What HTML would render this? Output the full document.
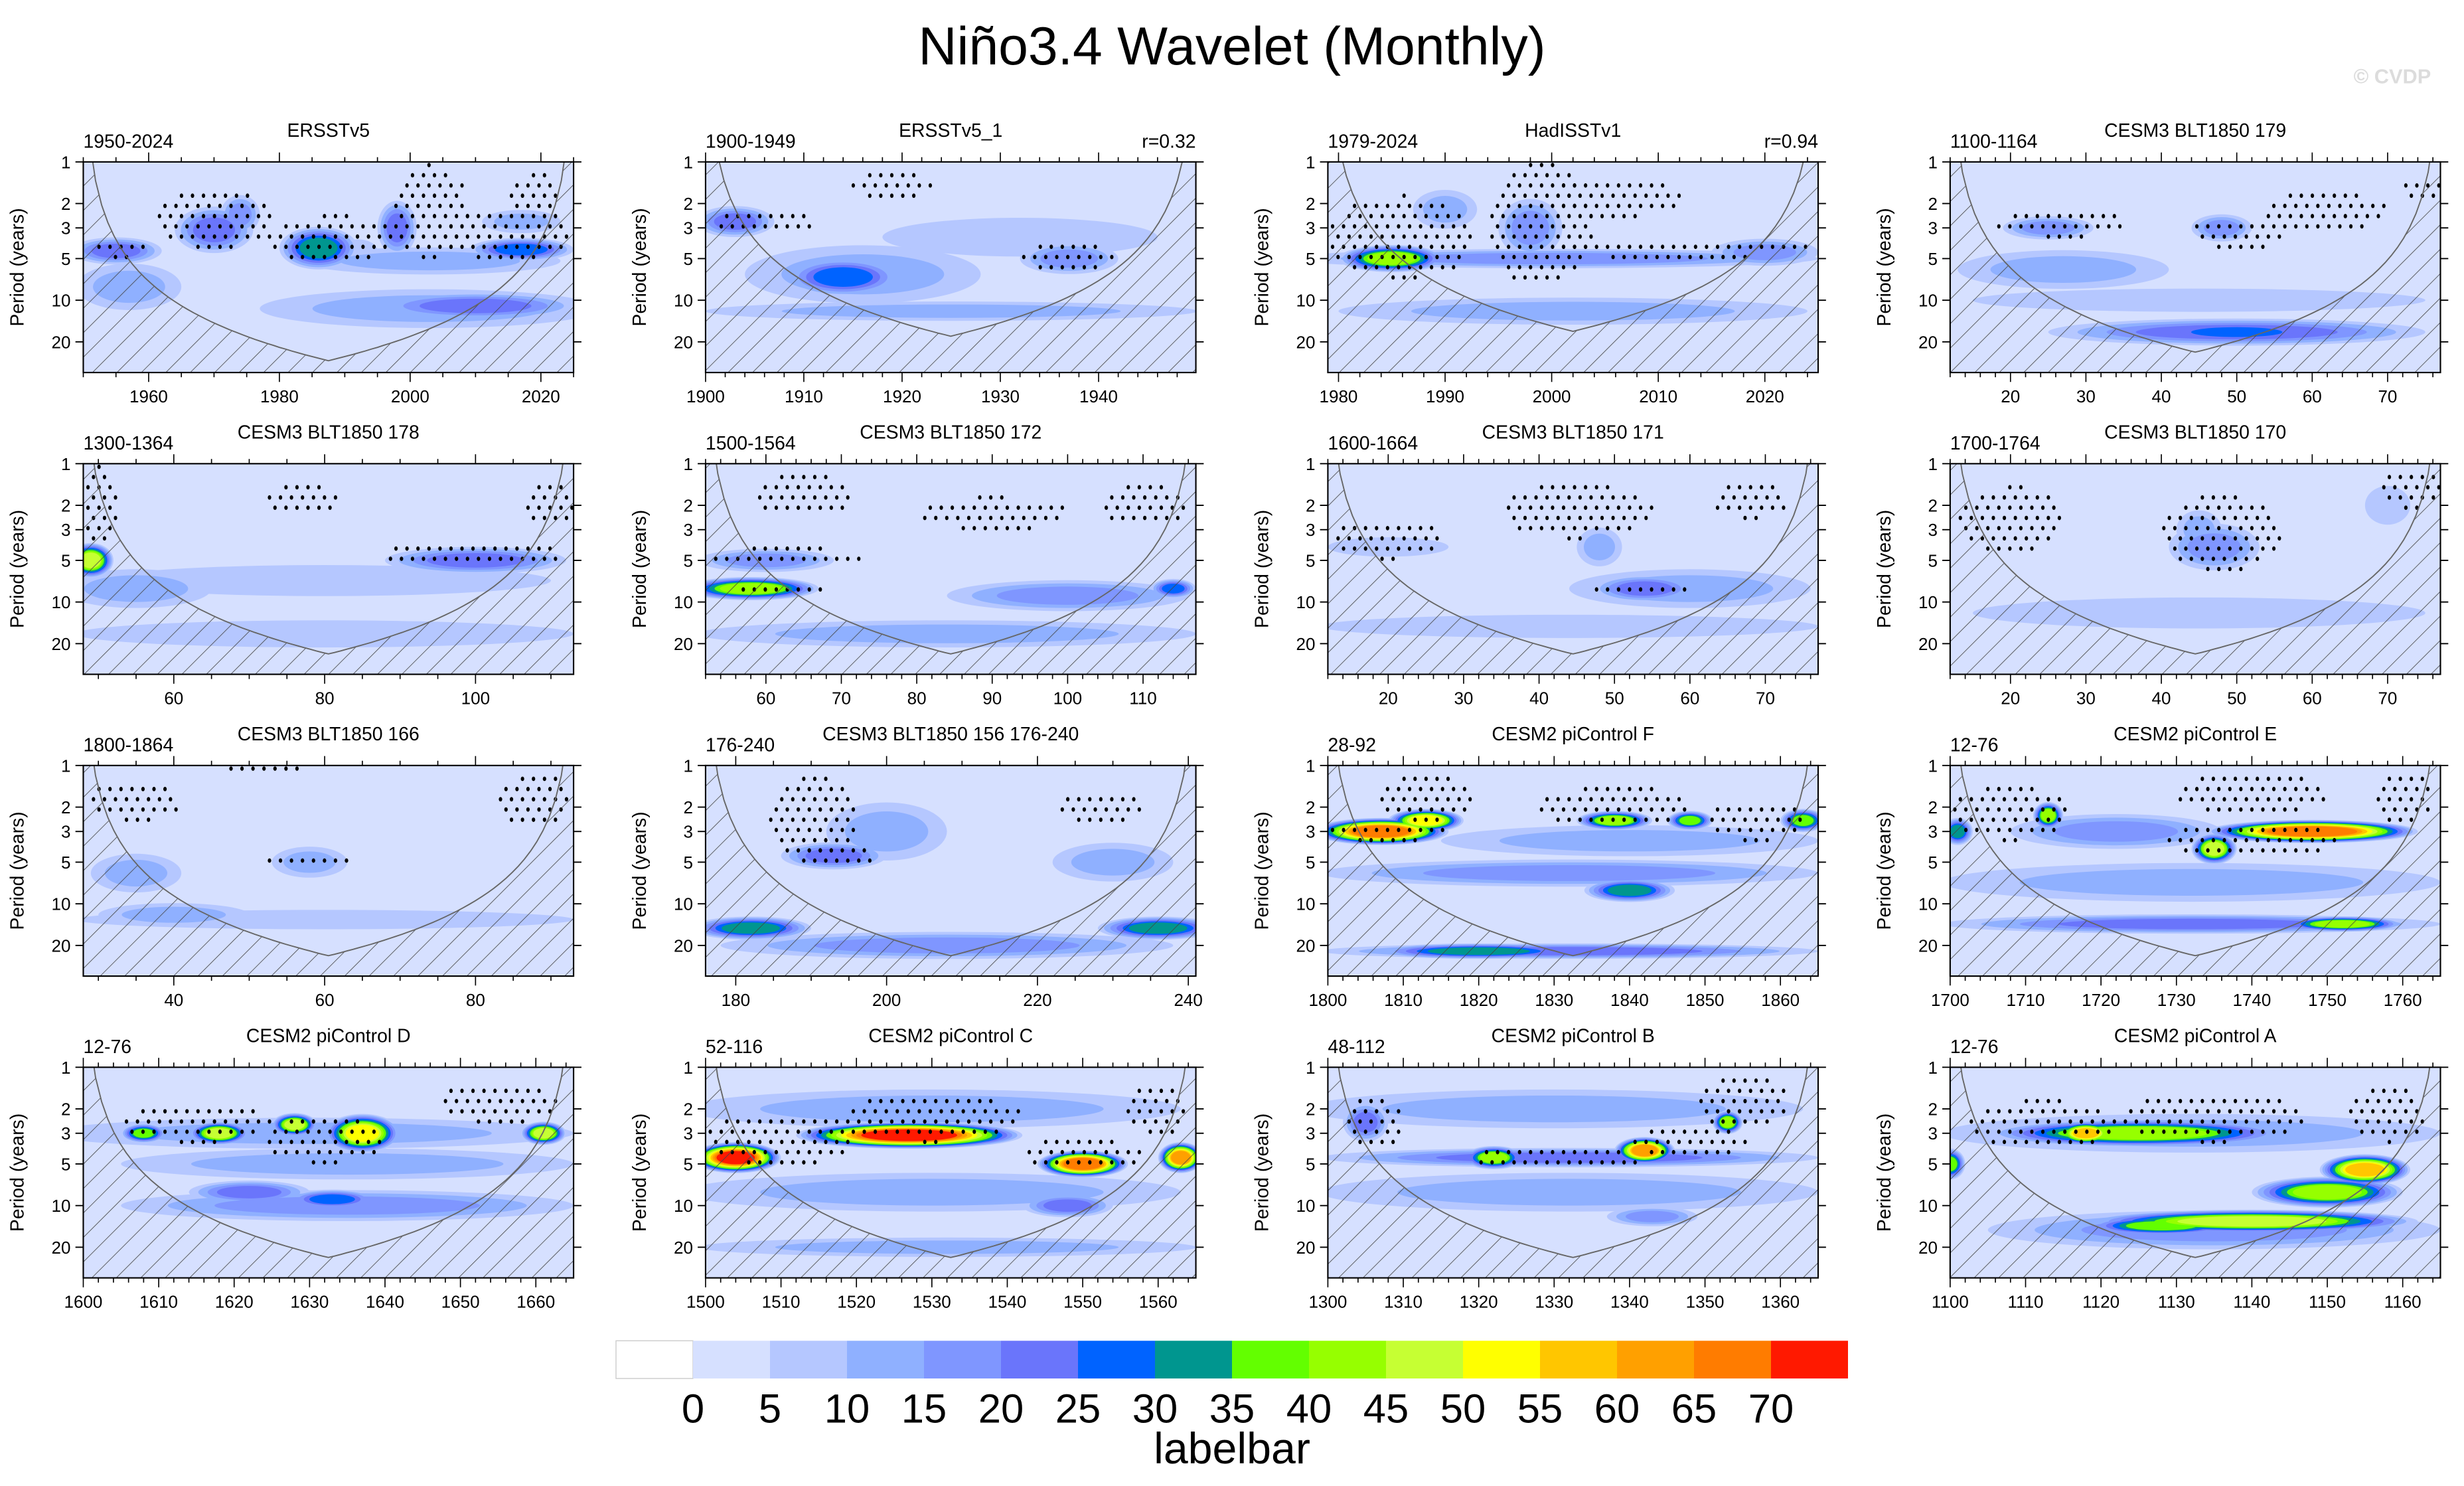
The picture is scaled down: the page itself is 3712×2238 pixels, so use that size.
<!DOCTYPE html>
<html><head><meta charset="utf-8"><style>
html,body{margin:0;padding:0;background:#fff;}
svg{display:block;font-family:"Liberation Sans",Arial,sans-serif;}
</style></head><body>
<svg id="fig" xmlns="http://www.w3.org/2000/svg" width="3712" height="2238" viewBox="0 0 1568 945.4" preserveAspectRatio="none">
<defs>
<pattern id="hatch" patternUnits="userSpaceOnUse" width="11" height="11" patternTransform="rotate(45)">
<line x1="0" y1="0" x2="0" y2="11" stroke="#444" stroke-width="0.7"/>
</pattern>
</defs>
<text x="784" y="41" font-size="34" text-anchor="middle">Niño3.4 Wavelet (Monthly)</text>
<text x="1547" y="53" font-size="13" font-weight="bold" text-anchor="end" fill="#dcdcdc">© CVDP</text>
<g id="panels"></g>
<g id="cbar"></g>
</svg>
<script>
// ---- data ----
const levelColors = ["#ffffff","#d6e0ff","#b5c7ff","#8fb0ff","#7f96ff","#6a75fb","#0063ff","#00968f","#63ff00","#96ff00","#c6ff33","#ffff00","#ffc600","#ffa000","#ff7c00","#ff1900"];
const cbarLabels = ["0","5","10","15","20","25","30","35","40","45","50","55","60","65","70"];
const panelTitles = ["ERSSTv5","ERSSTv5_1","HadISSTv1","CESM3 BLT1850 179","CESM3 BLT1850 178","CESM3 BLT1850 172","CESM3 BLT1850 171","CESM3 BLT1850 170","CESM3 BLT1850 166","CESM3 BLT1850 156 176-240","CESM2 piControl F","CESM2 piControl E","CESM2 piControl D","CESM2 piControl C","CESM2 piControl B","CESM2 piControl A"];
const panelYears = ["1950-2024","1900-1949","1979-2024","1100-1164","1300-1364","1500-1564","1600-1664","1700-1764","1800-1864","176-240","28-92","12-76","12-76","52-116","48-112","12-76"];
const panelCorr = ["","r=0.32","r=0.94","","","","","","","","","","","","",""];
const panelXMin = [1950,1900,1979,12,48,52,12,12,28,176,1800,1700,1600,1500,1300,1100];
const panelXMax = [2025,1949.9,2025,77,113,117,77,77,93,241,1865,1765,1665,1565,1365,1165];
const panelTickStep = [20,10,10,10,20,10,10,10,20,20,10,10,10,10,10,10];
const panelTickStart = [1960,1900,1980,20,60,60,20,20,40,180,1800,1700,1600,1500,1300,1100];
const periodTicks = [1,2,3,5,10,20];
// blobs: [year center, period center, half-width (years), half-height (log10 decades), level]
const panelBlobs = [
 [[1955,4.4,7,0.07,5],[1957,8,8,0.12,3],[1970,3.1,6,0.12,5],[1974,2.4,3,0.1,4],[1986,4.2,6,0.11,7],[1998,3.0,3,0.14,5],[1992,4.4,3,0.06,2],[2017,4.3,8,0.06,6],[2003,5.2,20,0.07,3],[2010,11,16,0.07,5],[2003,11.5,26,0.1,3],[2017,2.7,6,0.06,3]],
 [[1903,2.7,4,0.08,5],[1914,6.8,6,0.1,6],[1916,6.5,12,0.15,3],[1925,12,25,0.05,3],[1937,5,5,0.08,4],[1932,3.5,14,0.1,2]],
 [[1985,5,5,0.07,9],[2000,5,25,0.05,4],[1998,3,3,0.15,4],[2002,12,22,0.07,3],[1990,2.2,3,0.1,3],[2020,4.5,5,0.07,4]],
 [[50,17,25,0.07,5],[50,17,12,0.05,6],[25,3,6,0.06,4],[48,3,4,0.07,4],[27,6,14,0.1,3],[45,10,30,0.06,2]],
 [[49,5,3,0.09,10],[100,5,12,0.07,5],[80,17,33,0.07,2],[55,8,10,0.1,3],[80,7,30,0.08,2]],
 [[58,8,9,0.06,9],[60,5,9,0.06,4],[114,8,3,0.05,6],[100,9,16,0.08,4],[84,17,33,0.07,3]],
 [[54,8,7,0.07,5],[48,4,3,0.1,3],[44,15,33,0.06,2],[20,4,8,0.05,2],[60,8,16,0.1,3]],
 [[47,4,6,0.12,4],[45,3,3,0.1,3],[45,12,30,0.08,2],[70,2,3,0.1,2]],
 [[35,6,6,0.1,3],[58,5,5,0.08,3],[60,13,33,0.05,2],[40,12,10,0.06,3]],
 [[193,4.5,7,0.07,5],[182,15,8,0.06,7],[236,15,8,0.06,7],[208,20,30,0.07,4],[200,3,8,0.15,3],[230,5,8,0.1,3]],
 [[1807,3,9,0.07,14],[1813,2.5,5,0.06,11],[1838,2.5,5,0.05,9],[1848,2.5,3,0.05,8],[1863,2.5,3,0.06,8],[1840,8,6,0.06,7],[1820,22,14,0.04,7],[1832,22,33,0.04,5],[1832,6,33,0.07,4],[1840,3.5,25,0.08,3]],
 [[1748,3,14,0.06,14],[1735,4,3,0.08,10],[1713,2.3,2,0.07,9],[1701,3,2,0.07,7],[1752,14,8,0.04,9],[1732,14,33,0.05,5],[1722,3,14,0.09,4],[1732,7,33,0.1,3]],
 [[1608,3,3,0.05,8],[1618,3,4,0.06,10],[1637,3,5,0.1,11],[1628,2.6,3,0.06,10],[1661,3,3,0.06,10],[1622,8,8,0.06,5],[1633,9,6,0.05,6],[1635,10,30,0.08,4],[1635,5,30,0.08,3],[1630,3,35,0.08,3]],
 [[1504,4.5,6,0.08,15],[1527,3.1,15,0.07,15],[1550,5,6,0.07,14],[1563,4.5,3,0.08,13],[1548,10,6,0.06,5],[1532,20,33,0.05,3],[1530,8,33,0.1,3],[1530,2,33,0.1,3]],
 [[1342,4,4,0.07,13],[1322,4.5,4,0.06,9],[1353,2.5,2,0.06,9],[1332,4.5,33,0.05,5],[1305,2.5,3,0.1,5],[1343,12,6,0.05,4],[1332,8,33,0.1,3],[1330,2,33,0.1,3]],
 [[1118,3,4,0.06,12],[1125,3,20,0.07,9],[1100,5,2,0.08,8],[1140,13,22,0.06,10],[1128,14,10,0.05,8],[1155,5.5,6,0.08,12],[1150,8,10,0.08,9],[1135,15,30,0.1,4],[1132,3,33,0.1,3]]
];
// stipple regions: [year center, period center, half-width (years), half-height (decades)]
const panelStipple = [
 [[1956,4.3,5,0.06],[1970,2.6,9,0.22],[1988,3.6,10,0.17],[2003,2.3,6,0.35],[2015,3.3,10,0.2],[2019,1.7,4,0.15]],
 [[1906,2.7,6,0.06],[1919,1.5,4,0.12],[1937,4.8,5,0.1]],
 [[1986,3.5,7,0.3],[1999,2.8,5,0.45],[2006,1.8,6,0.15],[2012,4.2,12,0.08]],
 [[27,2.8,9,0.1],[50,3.3,6,0.12],[62,2.3,8,0.15],[75,1.6,3,0.1]],
 [[50,2,3,0.3],[100,4.5,12,0.1],[110,2,4,0.15],[77,1.8,5,0.1]],
 [[63,4.7,10,0.07],[62,7.6,8,0.04],[65,1.7,7,0.15],[90,2.3,10,0.12],[110,2,6,0.15]],
 [[20,3.5,7,0.15],[53,7.8,7,0.05],[45,2.2,10,0.2],[68,1.8,5,0.15]],
 [[20,2.6,7,0.25],[48,3.2,8,0.28],[73,1.5,4,0.15]],
 [[35,1.8,6,0.15],[58,4.6,8,0.04],[52,1.1,6,0.05],[88,1.8,5,0.2]],
 [[190,2.4,6,0.3],[193,4.5,6,0.06],[228,2,6,0.12]],
 [[1808,3,8,0.08],[1813,1.7,6,0.18],[1838,2,10,0.15],[1857,2.5,7,0.15]],
 [[1708,2.2,8,0.2],[1740,3.5,12,0.12],[1740,1.6,10,0.15],[1760,1.7,4,0.2]],
 [[1615,2.5,10,0.15],[1632,3.3,8,0.18],[1655,1.8,8,0.15]],
 [[1510,3.3,10,0.2],[1530,2.3,12,0.18],[1550,4.3,8,0.12],[1560,2,4,0.2]],
 [[1306,2.5,4,0.2],[1330,4.5,15,0.05],[1348,3.5,8,0.12],[1355,1.8,6,0.2]],
 [[1112,2.6,10,0.18],[1135,2.3,12,0.18],[1158,2.2,5,0.2]]
];
// ---- layout ----
const colLeft=[53,449,845,1241], rowTop=[103,295,487,679], PW=312, PH=134, DEC=88;
const NS="http://www.w3.org/2000/svg";
function mk(tag,attrs,parent){const e=document.createElementNS(NS,tag);for(const k in attrs)e.setAttribute(k,attrs[k]);if(parent)parent.appendChild(e);return e;}
const root=document.getElementById('panels');
panelTitles.forEach((title,i)=>{
  const L=colLeft[i%4], T=rowTop[Math.floor(i/4)], x0=panelXMin[i], x1=panelXMax[i];
  const xs=v=>L+(v-x0)/(x1-x0)*PW;
  const ys=p=>T+Math.log10(p)*DEC;
  const g=mk('g',{},root);
  
  
  const cp=mk('clipPath',{id:'clip'+i},g);
  mk('rect',{x:L,y:T,width:PW,height:PH},cp);
  const bg=mk('rect',{x:L,y:T,width:PW,height:PH,fill:levelColors[1]},g);
  
  
  const fg=mk('g',{'clip-path':'url(#clip'+i+')'},g);
  const blobs=panelBlobs[i];
  const maxL=Math.max(...blobs.map(b=>b[4]));
  for(let k=2;k<=maxL;k++){
    blobs.forEach(b=>{
      if(b[4]<k)return;
      const s=1-(k-2)/(b[4]-1)*0.62;
      const cx=xs(b[0]), cy=ys(b[1]);
      const rx=b[2]/(x1-x0)*PW*s, ry=b[3]*1.4*DEC*s;
      const e=mk('ellipse',{cx:cx,cy:cy,rx:rx,ry:ry,fill:levelColors[k]},fg);
      
      
    });
  }
  // stipple
  panelStipple[i].forEach(r=>{
    const cx=xs(r[0]), cy=ys(r[1]), rx=r[2]/(x1-x0)*PW, ry=r[3]*DEC;
    for(let yy=T+2;yy<T+PH;yy+=6.5){for(let xx=L+3;xx<L+PW;xx+=7){
      const off=(Math.round((yy-T)/6.5)%2)*3.5;
      const px=xx+off;
      const dx=(px-cx)/rx, dy=(yy-cy)/ry;
      if(dx*dx+dy*dy<=1){
        const d=mk('ellipse',{cx:px,cy:yy,rx:1.1,ry:1.4,fill:'#000'},fg);
        
        
      }
    }}
  });
  // cone of influence
  let pts=[];
  const N=80;
  for(let j=0;j<=N;j++){
    const t=x0+(x1-x0)*j/N;
    const p=Math.max(0.5,0.73*Math.min(t-x0,x1-t));
    pts.push([xs(t),Math.min(ys(p),T+PH+20)]);
  }
  const curveStr=pts.map(q=>q[0].toFixed(1)+','+q[1].toFixed(1)).join(' ');
  const hatch=mk('polygon',{points:curveStr+' '+(L+PW)+','+(T+PH+30)+' '+L+','+(T+PH+30),fill:'url(#hatch)'},fg);
  
  
  const cl=mk('polyline',{points:curveStr,fill:'none',stroke:'#666','stroke-width':0.8},fg);
  
  
  const fr=mk('rect',{x:L,y:T,width:PW,height:PH,fill:'none',stroke:'#000','stroke-width':0.9},g);
  
  
  // y ticks
  periodTicks.forEach(p=>{
    const y=ys(p);
    mk('line',{x1:L-5,y1:y,x2:L,y2:y,stroke:'#000','stroke-width':0.8},g);
    mk('line',{x1:L+PW,y1:y,x2:L+PW+5,y2:y,stroke:'#000','stroke-width':0.8},g);
    const t=mk('text',{x:L-8,y:y+4,'font-size':11,'text-anchor':'end'},g);
    t.textContent=p;
    
    
  });
  // x ticks
  const step=panelTickStep[i], minor=step===20?5:2;
  for(let v=Math.ceil(x0/minor)*minor;v<=x1;v+=minor){
    const x=xs(v), major=((v-panelTickStart[i])%step===0)&&v>=panelTickStart[i];
    const len=major?6:3;
    mk('line',{x1:x,y1:T,x2:x,y2:T-len,stroke:'#000','stroke-width':0.7},g);
    mk('line',{x1:x,y1:T+PH,x2:x,y2:T+PH+len,stroke:'#000','stroke-width':0.7},g);
    if(major){
      const t=mk('text',{x:x,y:T+PH+19,'font-size':11,'text-anchor':'middle'},g);
      t.textContent=v;
      
      
    }
  }
  const yt=mk('text',{x:L-38,y:T+PH/2,'font-size':12,'text-anchor':'middle',transform:'rotate(-90 '+(L-38)+' '+(T+PH/2)+')'},g);
  yt.textContent='Period (years)';
  
  
  const tt=mk('text',{x:L+PW/2,y:T-16,'font-size':12,'text-anchor':'middle'},g);
  tt.textContent=title;
  
  
  const yr=mk('text',{x:L,y:T-9,'font-size':12},g);
  yr.textContent=panelYears[i];
  
  
  if(panelCorr[i]){
    const rc=mk('text',{x:L+PW,y:T-9,'font-size':12,'text-anchor':'end'},g);
    rc.textContent=panelCorr[i];
    
    
  }
});
// colorbar
const cb=document.getElementById('cbar');
levelColors.forEach((c,i)=>{
  const r=mk('rect',{x:392+49*i,y:853,width:49,height:24,fill:c,stroke:i===0?'#ccc':'none','stroke-width':0.6},cb);
  
  
});
cbarLabels.forEach((s,i)=>{
  const t=mk('text',{x:392+49*(i+1),y:905,'font-size':26,'text-anchor':'middle'},cb);
  t.textContent=s;
  
  
});
const lb=mk('text',{x:784,y:931,'font-size':28,'text-anchor':'middle'},cb);
lb.textContent='labelbar';


</script>
</body></html>
